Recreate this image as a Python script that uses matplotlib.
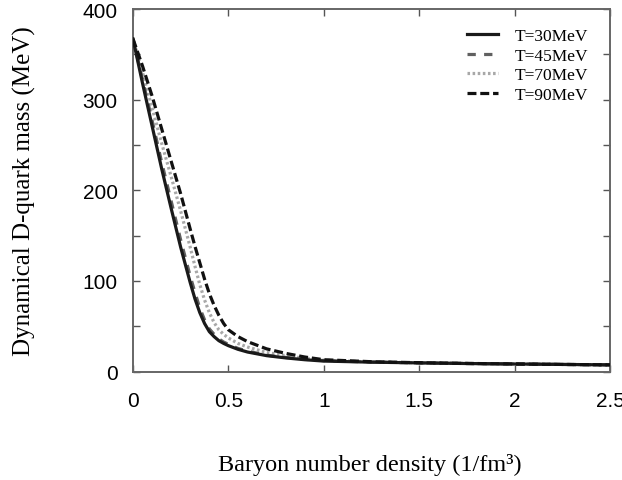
import matplotlib
matplotlib.use("Agg")
import matplotlib.pyplot as plt
import numpy as np

density = [0, 0.05, 0.1, 0.15, 0.2, 0.25, 0.3, 0.325, 0.35, 0.375, 0.4, 0.425,
           0.45, 0.475, 0.5, 0.55, 0.6, 0.7, 0.8, 0.9, 1.0, 1.25, 1.5, 1.75,
           2.0, 2.25, 2.5]
mass_T30 = [367, 318, 271, 224, 180, 137, 98, 80, 65, 53, 44, 38.5,
            34, 31, 28.5, 24.5, 21.5, 17.5, 15, 13, 11.5, 10.3, 9.5, 8.8,
            8.3, 7.8, 7.3]
mass_T45 = [367, 322, 277, 231, 188, 145, 105, 87, 70, 57, 47, 41,
            36, 32.5, 30, 25.5, 22.5, 18, 15.5, 13.5, 12, 10.4, 9.5, 8.8,
            8.3, 7.8, 7.3]
mass_T70 = [367, 330, 291, 252, 215, 177, 137, 116, 96, 79, 65, 54,
            46, 41, 37, 31, 27, 21, 17.5, 14.5, 12.5, 10.5, 9.6, 8.9,
            8.3, 7.8, 7.3]
mass_T90 = [367, 337, 304, 268, 232, 196, 157, 138, 120, 102, 86, 73,
            62, 53, 46, 38.5, 33, 25, 20, 16, 13, 10.8, 9.7, 8.9,
            8.3, 7.8, 7.3]
labels = ["T=30MeV", "T=45MeV", "T=70MeV", "T=90MeV"]
x_ticks = [0, 0.5, 1, 1.5, 2, 2.5]
x_ticklabels = ["0", "0.5", "1", "1.5", "2", "2.5"]
y_ticks = [0, 50, 100, 150, 200, 250, 300, 350, 400]
y_ticklabels = ["0", "", "100", "", "200", "", "300", "", "400"]

W, H = 622, 481
fig = plt.figure(figsize=(W / 100, H / 100), dpi=100)
ax = fig.add_axes([133 / W, 1 - 372.5 / H, (610 - 133) / W, (372.5 - 10) / H])

lw = 2.3
ax.plot(density, mass_T30, color="#1a1a1a", lw=lw, ls="-", label=labels[0], zorder=5)
ax.plot(density, mass_T45, color="#606060", lw=lw, ls=(0, (2.6, 2.6)), label=labels[1], zorder=4)
ax.plot(density, mass_T70, color="#a8a8a8", lw=lw, ls=(0, (0.8, 0.8)), label=labels[2], zorder=3)
ax.plot(density, mass_T90, color="#111111", lw=lw, ls=(0, (2.8, 1.2)), label=labels[3], zorder=6)

ax.set_xlim(0, 2.5)
ax.set_ylim(0, 400)
ax.set_xticks(x_ticks)
ax.set_xticklabels(x_ticklabels)
ax.set_yticks(y_ticks)
ax.set_yticklabels(y_ticklabels)
for lab in ax.get_xticklabels() + ax.get_yticklabels():
    lab.set_fontfamily("Liberation Sans")
    lab.set_fontsize(15)
ax.tick_params(direction="in", length=5, width=1.0, color="#555555",
               top=True, right=True, labeltop=False, labelright=False)
ax.tick_params(axis="x", pad=14)
ax.tick_params(axis="y", pad=11)
for sp in ax.spines.values():
    sp.set_color("#666666")
    sp.set_linewidth(1.4)

leg = ax.legend(loc="upper left", bbox_to_anchor=(0.70, 0.948), frameon=False,
                prop={"family": "Liberation Serif", "size": 12.5},
                handlelength=1.8, handletextpad=0.95, labelspacing=0.2,
                borderpad=0, borderaxespad=0)

fig.text(370 / W, 1 - 465 / H, "Baryon number density (1/fm³)",
         ha="center", va="center", fontsize=17.5, family="Liberation Serif")
fig.text(24 / W, 1 - 191 / H, "Dynamical D-quark mass (MeV)", rotation=90,
         ha="center", va="center", fontsize=18, family="Liberation Serif")

fig.savefig("out.png", dpi=100)
